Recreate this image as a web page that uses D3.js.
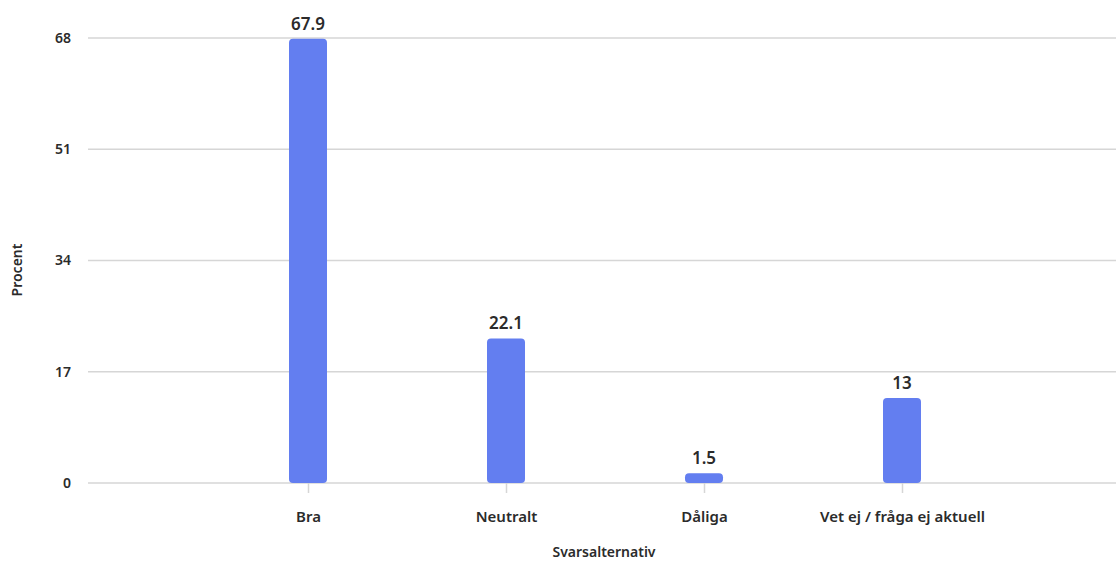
<!DOCTYPE html>
<html>
<head>
<meta charset="utf-8">
<script src="https://cdn.jsdelivr.net/npm/d3@7"></script>
<style>
  body { margin: 0; background: #fff; }
  text { font-family: "Noto Sans", "Open Sans", sans-serif; fill: #2b2b2b; }
</style>
</head>
<body>
<svg id="chart" width="1116" height="564"></svg>
<script>
// data
var categories = ["Bra", "Neutralt", "Dåliga", "Vet ej / fråga ej aktuell"];
var values = [67.9, 22.1, 1.5, 13];
var yTicks = [0, 17, 34, 51, 68];

var svg = d3.select("#chart");
var plotLeft = 88, plotRight = 1116, plotTop = 38, plotBottom = 483;

var x = d3.scalePoint().domain(categories).range([308, 902]);
var y = d3.scaleLinear().domain([0, 68]).range([plotBottom, plotTop]);
var barW = 38;

// gridlines
svg.append("g")
  .selectAll("line")
  .data(yTicks)
  .join("line")
  .attr("x1", plotLeft).attr("x2", plotRight)
  .attr("y1", function(d) { return y(d); })
  .attr("y2", function(d) { return y(d); })
  .attr("stroke", "#d6d6d6")
  .attr("stroke-width", 1.5);

// y axis labels
var yAxis = svg.append("g")
  .attr("transform", "translate(" + 71 + ",0)")
  .call(d3.axisLeft(y).tickValues(yTicks).tickSize(0).tickPadding(0));
yAxis.select(".domain").remove();
yAxis.selectAll("text")
  .style("font-size", "14px").style("font-weight", 600)
  .attr("fill", "#2b2b2b");

// x axis
var xAxis = svg.append("g")
  .attr("transform", "translate(0," + plotBottom + ")")
  .call(d3.axisBottom(x).tickSize(10).tickPadding(18));
xAxis.select(".domain").remove();
xAxis.selectAll("line").attr("stroke", "#d6d6d6").attr("stroke-width", 1.5);
xAxis.selectAll("text")
  .style("font-size", "15px").style("font-weight", 600)
  .attr("fill", "#2b2b2b");

// bars
svg.append("g")
  .selectAll("rect")
  .data(values)
  .join("rect")
  .attr("x", function(d, i) { return x(categories[i]) - barW / 2; })
  .attr("y", function(d) { return y(d); })
  .attr("width", barW)
  .attr("height", function(d) { return plotBottom - y(d); })
  .attr("rx", 4)
  .attr("fill", "#637ef0");

// value labels
svg.append("g")
  .selectAll("text")
  .data(values)
  .join("text")
  .attr("x", function(d, i) { return x(categories[i]); })
  .attr("y", function(d) { return y(d) - 9; })
  .attr("text-anchor", "middle")
  .style("font-size", "17px").style("font-weight", 600)
  .text(function(d) { return d; });

// axis titles
svg.append("text")
  .attr("x", 604).attr("y", 557)
  .attr("text-anchor", "middle")
  .style("font-size", "14px").style("font-weight", 600)
  .text("Svarsalternativ");

svg.append("text")
  .attr("transform", "translate(22,270) rotate(-90)")
  .attr("text-anchor", "middle")
  .style("font-size", "14px").style("font-weight", 600)
  .text("Procent");
</script>
</body>
</html>
